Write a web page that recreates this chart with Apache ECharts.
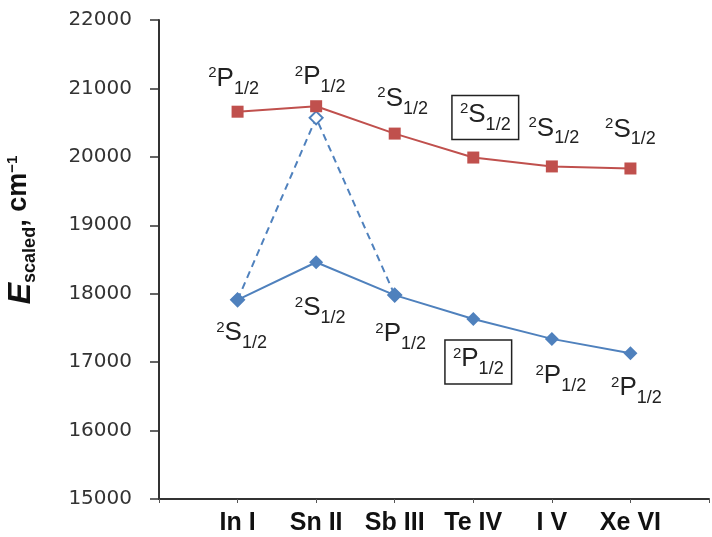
<!DOCTYPE html>
<html>
<head>
<meta charset="utf-8">
<script src="https://cdn.jsdelivr.net/npm/echarts@6/dist/echarts.min.js"></script>
<style>
html,body{margin:0;padding:0;background:#fff;}
#main{width:712px;height:537px;}
</style>
</head>
<body>
<div id="main"></div>
<script>
// ions along the isoelectronic row
var categories = ['In I', 'Sn II', 'Sb III', 'Te IV', 'I V', 'Xe VI'];
// upper (red) and lower (blue) scaled energies, cm-1
var redValues  = [20660, 20740, 20340, 19990, 19860, 19830];
var blueValues = [17910, 18460, 17980, 17630, 17340, 17130];
// dashed branch: In I -> Sn II (open diamond) -> Sb III
var dashValues = [17910, 20570, 17980, null, null, null];
// term symbols  [L letter]
var redTerms  = ['P', 'P', 'S', 'S', 'S', 'S'];
var blueTerms = ['S', 'S', 'P', 'P', 'P', 'P'];
var boxedIndex = 3;
var yTicks = [15000, 16000, 17000, 18000, 19000, 20000, 21000, 22000];

// label offsets (layout only)
var redOffsets  = [[-4,-30],[4,-26],[8,-32],[12,-40],[2,-35],[0,-36]];
var blueOffsets = [[4,36],[4,49],[6,42],[5,43],[9,40],[6,38]];

var RED = '#C0504D', BLUE = '#4F81BD';
var FONT = 'Liberation Sans, Arial, sans-serif';

var termRich = {
    sup: {fontSize: 15, fontFamily: FONT, color: '#222', verticalAlign: 'top', lineHeight: 14},
    m:   {fontSize: 26, fontFamily: FONT, color: '#222', verticalAlign: 'top', lineHeight: 32},
    sub: {fontSize: 18, fontFamily: FONT, color: '#222', verticalAlign: 'bottom', lineHeight: 17}
};

function termText(letter){
    return '{sup|2}{m|' + letter + '}{sub|1/2}';
}

function labelled(values, terms, offsets){
    var out = [null];
    for (var i = 0; i < values.length; i++) {
        var lab = {
            show: true,
            position: 'inside',
            offset: offsets[i],
            formatter: termText(terms[i]),
            rich: termRich
        };
        if (i === boxedIndex) {
            lab.borderColor = '#222';
            lab.borderWidth = 1.5;
            lab.padding = [6, 8, 6, 8];
        }
        out.push({value: values[i], label: lab});
    }
    out.push(null);
    return out;
}

var myChart = echarts.init(document.getElementById('main'));
var option = {
    animation: false,
    grid: {left: 159, top: 20, width: 560, height: 479},
    xAxis: {
        type: 'category',
        data: [''].concat(categories, ['']),
        boundaryGap: false,
        axisLine: {lineStyle: {color: '#333', width: 2}},
        axisTick: {show: true, length: 4, lineStyle: {color: '#555'}},
        axisLabel: {
            color: '#111', fontSize: 25, fontWeight: 'bold',
            fontFamily: FONT, margin: 12, interval: 0
        },
        splitLine: {show: false}
    },
    yAxis: {
        type: 'value',
        min: yTicks[0],
        max: yTicks[yTicks.length - 1],
        interval: 1000,
        axisLine: {show: true, lineStyle: {color: '#333', width: 2}},
        axisTick: {show: true, length: 9, lineStyle: {color: '#333', width: 1.5}},
        axisLabel: {
            color: '#333', fontSize: 20, fontFamily: 'DejaVu Sans, sans-serif', margin: 27,
            formatter: function(v){ return String(v); }
        },
        splitLine: {show: false}
    },
    graphic: [{
        type: 'text',
        x: 22, y: 230,
        rotation: Math.PI / 2,
        style: {
            text: '{E|E}{s|scaled}{n|, cm}{p|\u22121}',
            align: 'center',
            verticalAlign: 'middle',
            rich: {
                E: {fontSize: 32, fontWeight: 'bold', fontStyle: 'italic', fontFamily: FONT, fill: '#111', lineHeight: 34, verticalAlign: 'top'},
                s: {fontSize: 18, fontWeight: 'bold', fontFamily: FONT, fill: '#111', lineHeight: 17, verticalAlign: 'bottom'},
                n: {fontSize: 27, fontWeight: 'bold', fontFamily: FONT, fill: '#111', lineHeight: 34, verticalAlign: 'top'},
                p: {fontSize: 15, fontWeight: 'bold', fontFamily: FONT, fill: '#111', lineHeight: 15, verticalAlign: 'top'}
            }
        }
    }],
    series: [{
        name: 'dashed',
        type: 'line',
        data: [null].concat(dashValues, [null]),
        connectNulls: false,
        symbol: 'emptyDiamond',
        symbolSize: 13,
        lineStyle: {color: BLUE, width: 2, type: [7, 5]},
        itemStyle: {color: BLUE, borderWidth: 2},
        z: 1
    }, {
        name: 'lower',
        type: 'line',
        data: labelled(blueValues, blueTerms, blueOffsets),
        symbol: 'diamond',
        symbolSize: 14,
        lineStyle: {color: BLUE, width: 2},
        itemStyle: {color: BLUE},
        z: 2
    }, {
        name: 'upper',
        type: 'line',
        data: labelled(redValues, redTerms, redOffsets),
        symbol: 'rect',
        symbolSize: 12,
        lineStyle: {color: RED, width: 2},
        itemStyle: {color: RED},
        z: 3
    }]
};
myChart.setOption(option);
</script>
</body>
</html>
